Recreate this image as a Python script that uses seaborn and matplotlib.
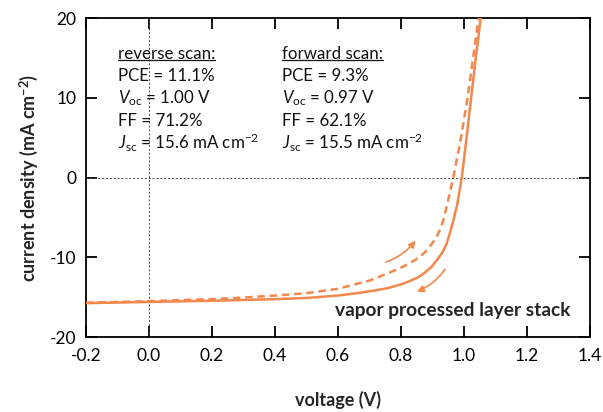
import matplotlib
matplotlib.use("Agg")
import matplotlib.pyplot as plt
import seaborn as sns
import pandas as pd

# ---- data ----
rev_v = [-0.2, 0.0, 0.2, 0.4, 0.5, 0.6, 0.66, 0.72, 0.76, 0.80, 0.83, 0.855, 0.875,
         0.897, 0.915, 0.93, 0.945, 0.955, 0.966, 0.979, 0.993, 1.01, 1.03, 1.053, 1.06]
rev_j = [-15.75, -15.6, -15.45, -15.25, -15.1, -14.8, -14.5, -14.15, -13.85, -13.4,
         -12.95, -12.5, -11.95, -11.2, -10.3, -9.5, -8.3, -7.0, -5.4, -3.3, 0.0, 5.6,
         12.5, 20.0, 22.3]
fwd_v = [-0.2, 0.0, 0.2, 0.3, 0.4, 0.5, 0.6, 0.702, 0.765, 0.80, 0.834, 0.86, 0.881,
         0.9, 0.913, 0.925, 0.934, 0.947, 0.966, 0.99, 1.01, 1.03, 1.05]
fwd_j = [-15.7, -15.5, -15.25, -15.05, -14.8, -14.5, -13.95, -12.9, -11.9, -11.3,
         -10.6, -9.95, -9.15, -8.2, -7.5, -6.4, -5.4, -3.3, 0.0, 4.9, 9.65, 15.3, 21.0]
x_ticks = [-0.2, 0.0, 0.2, 0.4, 0.6, 0.8, 1.0, 1.2, 1.4]
y_ticks = [-20, -10, 0, 10, 20]
rev_text = ["reverse scan:", "PCE = 11.1%", r"$V_{\mathrm{oc}}$ = 1.00 V", "FF = 71.2%",
            r"$J_{\mathrm{sc}}$ = 15.6 mA cm$^{-2}$"]
fwd_text = ["forward scan:", "PCE = 9.3%", r"$V_{\mathrm{oc}}$ = 0.97 V", "FF = 62.1%",
            r"$J_{\mathrm{sc}}$ = 15.5 mA cm$^{-2}$"]

ORANGE = "#F4874B"
FONT = "Lato"

sns.set_theme(style="ticks")
plt.rcParams["font.family"] = [FONT, "DejaVu Sans"]
plt.rcParams["mathtext.fontset"] = "custom"
plt.rcParams["mathtext.rm"] = FONT
plt.rcParams["mathtext.it"] = FONT + ":italic"
plt.rcParams["mathtext.bf"] = FONT + ":bold"
plt.rcParams["axes.linewidth"] = 1.3

fig = plt.figure(figsize=(6.03, 4.12), dpi=100)
ax = fig.add_axes([0.1426, 0.182, 0.8358, 0.774])

df_rev = pd.DataFrame({"V": rev_v, "J": rev_j})
df_fwd = pd.DataFrame({"V": fwd_v, "J": fwd_j})

ax.axhline(0, color="#444444", lw=0.7, ls=(0, (2, 2)), zorder=1)
ax.axvline(0, color="#444444", lw=0.7, ls=(0, (2, 2)), zorder=1)

sns.lineplot(data=df_rev, x="V", y="J", sort=False, color=ORANGE, lw=1.8, ax=ax, zorder=3)
sns.lineplot(data=df_fwd, x="V", y="J", sort=False, color=ORANGE, lw=1.8, ax=ax, zorder=3)
for ln in ax.lines[-2:]:
    ln.set_solid_joinstyle("round")
    ln.set_dash_joinstyle("round")
ax.lines[-1].set_dashes((3, 1.9))

ax.set_xlim(-0.2, 1.4)
ax.set_ylim(-20, 20)
ax.set_xticks(x_ticks)
ax.set_xticklabels([f"{t:.1f}" for t in x_ticks])
ax.set_yticks(y_ticks)
ax.set_yticklabels([str(t) for t in y_ticks])
ax.tick_params(direction="in", length=8, width=1.3, top=True, right=True,
               labelsize=12.5, colors="black")
ax.tick_params(axis="x", pad=8)
ax.tick_params(axis="y", pad=7)
for s in ax.spines.values():
    s.set_visible(True)
    s.set_color("black")

ax.set_xlabel("voltage (V)", fontsize=13, fontweight="bold", labelpad=19)
ax.set_ylabel(r"current density (mA cm$^{\mathbf{-2}}$)", fontsize=13, fontweight="bold",
              labelpad=7)

ys = [15.55, 12.8, 9.95, 7.15, 4.3]
texts = []
for xs, lines in ((-0.098, rev_text), (0.422, fwd_text)):
    for i, (y, s) in enumerate(zip(ys, lines)):
        t = ax.text(xs, y, s, fontsize=12.2, va="center", ha="left", color="#111111")
        if i == 0:
            texts.append(t)

ax.text(1.337, -16.7, "vapor processed layer stack", fontsize=13.8, fontweight="bold",
        ha="right", va="center")

# arrows
ax.annotate("", xy=(0.846, -7.9), xytext=(0.752, -10.6),
            arrowprops=dict(arrowstyle="-|>", color=ORANGE, lw=1.2, shrinkA=0, shrinkB=0,
                            connectionstyle="arc3,rad=0.15", mutation_scale=10))
ax.annotate("", xy=(0.85, -14.3), xytext=(0.94, -11.5),
            arrowprops=dict(arrowstyle="-|>", color=ORANGE, lw=1.2, shrinkA=0, shrinkB=0,
                            connectionstyle="arc3,rad=-0.15", mutation_scale=10))

fig.canvas.draw()
inv = ax.transAxes.inverted()
for t in texts:
    bb = t.get_window_extent()
    (x0, y0), (x1, y1) = inv.transform([(bb.x0, bb.y0 + 1.5), (bb.x1, bb.y0 + 1.5)])
    ax.plot([x0, x1], [y0, y1], transform=ax.transAxes, color="#111111", lw=0.9,
            clip_on=False)

fig.savefig("out.png", dpi=100)
